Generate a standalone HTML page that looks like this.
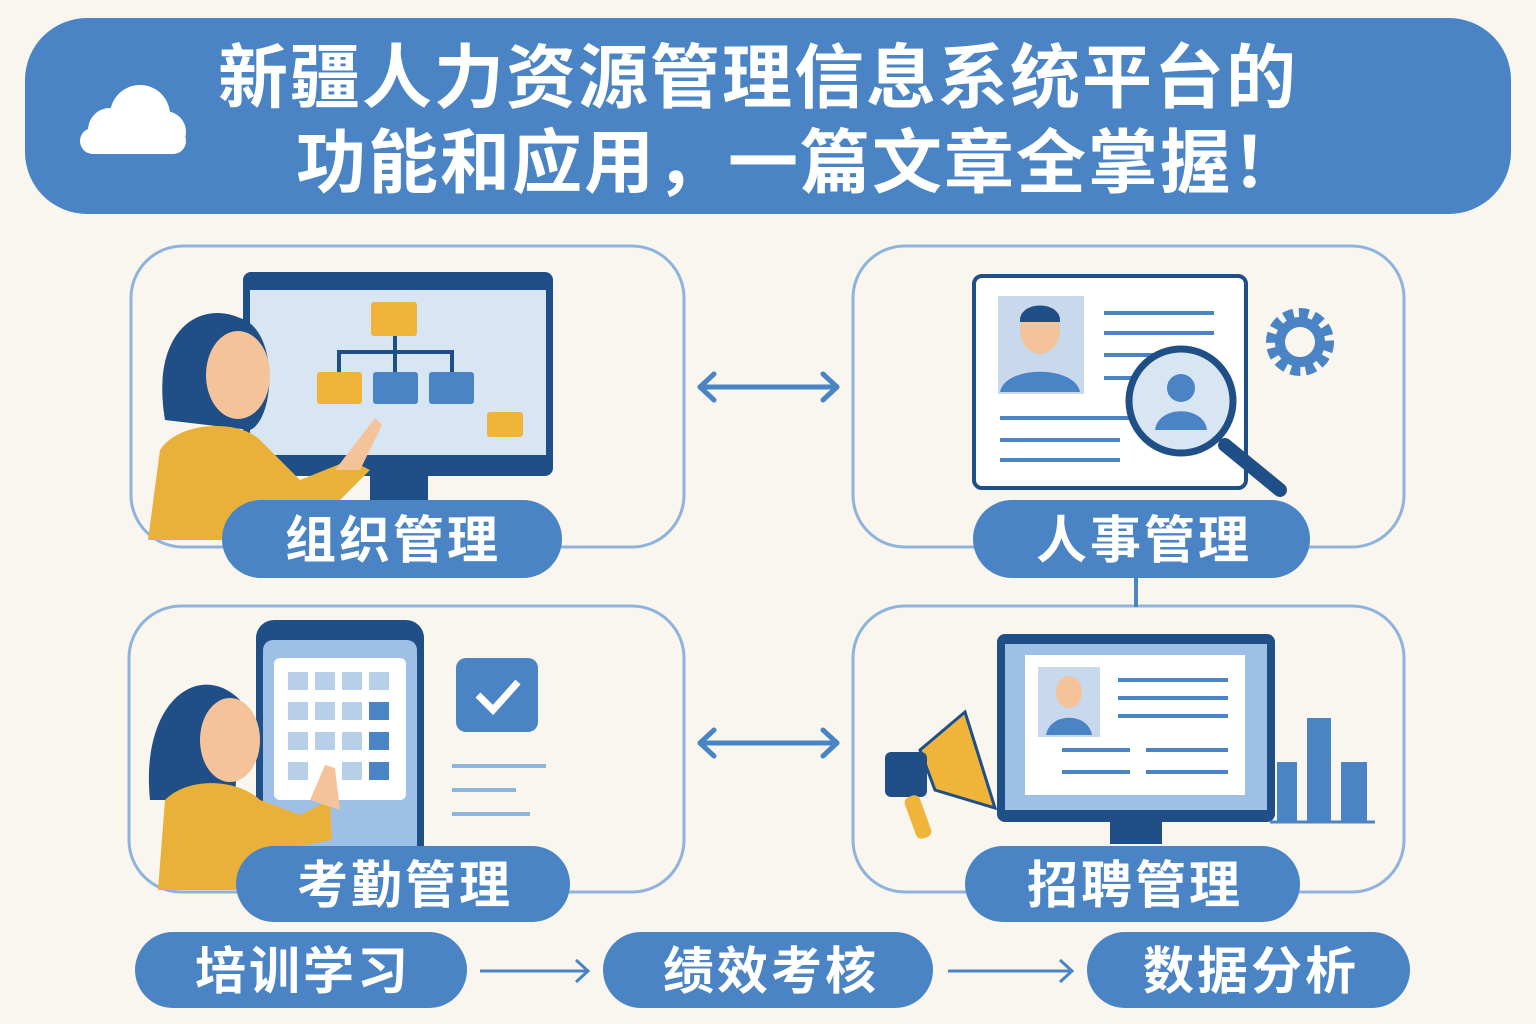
<!DOCTYPE html>
<html><head><meta charset="utf-8"><style>
html,body{margin:0;padding:0;background:#f9f6ef;}
svg{display:block}
text{font-family:"Liberation Sans","Noto Sans CJK SC",sans-serif;font-weight:bold;fill:#fff;text-anchor:middle}
</style></head><body>
<svg width="1536" height="1024" viewBox="0 0 1536 1024">
<rect width="1536" height="1024" fill="#f9f6ef"/>
<rect x="25" y="18" width="1486" height="196" rx="62" fill="#4a84c4"/>
<g fill="#fff"><circle cx="110" cy="130" r="22"/><circle cx="140" cy="115" r="30"/><circle cx="165" cy="132" r="21"/><rect x="80" y="128" width="106" height="26" rx="13"/></g>
<text x="758" y="102" font-size="70" letter-spacing="2">新疆人力资源管理信息系统平台的</text>
<text x="800" y="187" font-size="70" letter-spacing="2">功能和应用，一篇文章全掌握！</text>
<g fill="none" stroke="#8fb3dc" stroke-width="3">
<rect x="131" y="246" width="553" height="301" rx="52"/>
<rect x="853" y="246" width="551" height="301" rx="52"/>
<rect x="129" y="606" width="555" height="286" rx="52"/>
<rect x="853" y="606" width="551" height="286" rx="52"/>
</g>
<line x1="1136" y1="575" x2="1136" y2="607" stroke="#4a84c4" stroke-width="4"/>
<g stroke="#4a84c4" stroke-width="5" fill="none" stroke-linecap="round" stroke-linejoin="round">
<line x1="700" y1="387" x2="837" y2="387"/><polyline points="714,374 700,387 714,400"/><polyline points="823,374 837,387 823,400"/>
<line x1="700" y1="743" x2="837" y2="743"/><polyline points="714,730 700,743 714,756"/><polyline points="823,730 837,743 823,756"/>
</g>
<g stroke="#4a84c4" stroke-width="3" fill="none">
<line x1="480" y1="971" x2="588" y2="971"/><polyline points="576,960 588,971 576,982"/>
<line x1="948" y1="971" x2="1072" y2="971"/><polyline points="1060,960 1072,971 1060,982"/>
</g>
<rect x="243" y="272" width="310" height="204" rx="8" fill="#1f4f86"/>
<rect x="250" y="290" width="296" height="165" fill="#d8e5f2"/>
<rect x="370" y="475" width="58" height="30" fill="#1f4f86"/>
<rect x="371" y="302" width="46" height="34" rx="3" fill="#f0b43a"/>
<g stroke="#1f4f86" stroke-width="4" fill="none"><line x1="395" y1="336" x2="395" y2="374"/><polyline points="339,374 339,352 452,352 452,374"/></g>
<rect x="317" y="372" width="45" height="32" rx="3" fill="#f0b43a"/>
<rect x="373" y="372" width="45" height="32" rx="3" fill="#4a84c4"/>
<rect x="429" y="372" width="45" height="32" rx="3" fill="#4a84c4"/>
<rect x="487" y="412" width="36" height="25" rx="3" fill="#f0b43a"/>
<path d="M165,420 C150,330 200,300 240,318 C280,330 275,420 250,430 Z" fill="#1f4f86"/>
<ellipse cx="238" cy="375" rx="32" ry="44" fill="#f5c39a"/>
<path d="M148,540 L160,450 C180,420 240,420 260,440 L300,480 L350,460 L370,470 L330,510 L300,540 Z" fill="#eab13a"/>
<path d="M335,470 L375,418 L382,425 L360,470 Z" fill="#f5c39a"/>
<rect x="974" y="276" width="272" height="212" rx="8" fill="#fff" stroke="#1f4f86" stroke-width="4"/>
<rect x="998" y="296" width="86" height="98" fill="#c8d9ee"/>
<ellipse cx="1040" cy="330" rx="20" ry="24" fill="#f5c39a"/>
<path d="M1020,322 C1018,300 1062,300 1060,322 Z" fill="#1f4f86"/>
<path d="M1000,392 C1005,365 1075,365 1080,392 Z" fill="#4a84c4"/>
<g stroke="#4a84c4" stroke-width="4"><line x1="1104" y1="313" x2="1214" y2="313"/><line x1="1104" y1="333" x2="1214" y2="333"/><line x1="1104" y1="355" x2="1180" y2="355"/><line x1="1104" y1="378" x2="1150" y2="378"/><line x1="1000" y1="418" x2="1130" y2="418"/><line x1="1000" y1="440" x2="1120" y2="440"/><line x1="1000" y1="460" x2="1120" y2="460"/></g>
<line x1="1225" y1="445" x2="1280" y2="490" stroke="#1f4f86" stroke-width="14" stroke-linecap="round"/>
<circle cx="1181" cy="401" r="52" fill="#d8e5f2" stroke="#1f4f86" stroke-width="7"/>
<circle cx="1181" cy="388" r="14" fill="#4a84c4"/><path d="M1155,430 C1158,405 1204,405 1207,430 Z" fill="#4a84c4"/>
<circle cx="1300" cy="342" r="27" fill="none" stroke="#4a84c4" stroke-width="14" stroke-dasharray="9 5"/>
<circle cx="1300" cy="342" r="20" fill="none" stroke="#4a84c4" stroke-width="10"/>
<rect x="256" y="620" width="168" height="260" rx="18" fill="#1f4f86"/>
<rect x="263" y="640" width="154" height="230" rx="10" fill="#9ec0e6"/>
<rect x="274" y="658" width="132" height="142" rx="6" fill="#fff"/>
<g fill="#b8cfe8"><rect x="288" y="672" width="20" height="18"/><rect x="315" y="672" width="20" height="18"/><rect x="342" y="672" width="20" height="18"/><rect x="369" y="672" width="20" height="18"/><rect x="288" y="702" width="20" height="18"/><rect x="315" y="702" width="20" height="18"/><rect x="342" y="702" width="20" height="18"/><rect x="288" y="732" width="20" height="18"/><rect x="315" y="732" width="20" height="18"/><rect x="342" y="732" width="20" height="18"/><rect x="288" y="762" width="20" height="18"/><rect x="342" y="762" width="20" height="18"/></g>
<g fill="#4a84c4"><rect x="369" y="702" width="20" height="18"/><rect x="369" y="732" width="20" height="18"/><rect x="369" y="762" width="20" height="18"/></g>
<rect x="456" y="658" width="82" height="74" rx="10" fill="#4a84c4"/>
<polyline points="478,695 493,710 518,682" fill="none" stroke="#fff" stroke-width="7"/>
<g stroke="#8fb3dc" stroke-width="4"><line x1="452" y1="766" x2="546" y2="766"/><line x1="452" y1="790" x2="516" y2="790"/><line x1="452" y1="814" x2="530" y2="814"/></g>
<path d="M150,800 C140,700 200,660 240,700 L235,800 Z" fill="#1f4f86"/>
<ellipse cx="230" cy="740" rx="30" ry="42" fill="#f5c39a"/>
<path d="M158,890 L165,800 C190,775 240,780 260,800 L300,815 L330,800 L332,840 L280,850 L265,890 Z" fill="#eab13a"/>
<path d="M310,800 L325,765 L335,768 L340,810 Z" fill="#f5c39a"/>
<rect x="997" y="634" width="278" height="188" rx="8" fill="#1f4f86"/>
<rect x="1005" y="644" width="262" height="166" fill="#9ec0e6"/>
<rect x="1025" y="655" width="220" height="140" fill="#fff"/>
<rect x="1110" y="822" width="52" height="22" fill="#1f4f86"/>
<rect x="1038" y="667" width="62" height="70" fill="#c8d9ee"/>
<ellipse cx="1069" cy="692" rx="13" ry="16" fill="#f5c39a"/>
<path d="M1046,735 C1050,712 1088,712 1092,735 Z" fill="#4a84c4"/>
<g stroke="#4a84c4" stroke-width="4"><line x1="1118" y1="680" x2="1228" y2="680"/><line x1="1118" y1="698" x2="1228" y2="698"/><line x1="1118" y1="716" x2="1228" y2="716"/><line x1="1062" y1="750" x2="1130" y2="750"/><line x1="1146" y1="750" x2="1228" y2="750"/><line x1="1062" y1="772" x2="1130" y2="772"/><line x1="1146" y1="772" x2="1228" y2="772"/></g>
<g fill="#4a84c4"><rect x="1277" y="762" width="20" height="60"/><rect x="1307" y="718" width="24" height="104"/><rect x="1341" y="762" width="26" height="60"/></g>
<line x1="1270" y1="822" x2="1375" y2="822" stroke="#4a84c4" stroke-width="3"/>
<path d="M920,750 L965,712 L995,808 L935,790 Z" fill="#f0b43a" stroke="#1f4f86" stroke-width="3"/>
<rect x="885" y="752" width="42" height="45" rx="6" fill="#1f4f86"/>
<rect x="910" y="795" width="16" height="44" rx="6" fill="#f0b43a" transform="rotate(-20 918 817)"/>
<g fill="#4a84c4">
<rect x="222" y="500" width="340" height="78" rx="39"/>
<rect x="973" y="500" width="337" height="78" rx="39"/>
<rect x="236" y="846" width="334" height="76" rx="38"/>
<rect x="965" y="846" width="335" height="76" rx="38"/>
<rect x="135" y="932" width="332" height="76" rx="38"/>
<rect x="603" y="932" width="330" height="76" rx="38"/>
<rect x="1087" y="932" width="323" height="76" rx="38"/>
</g>
<g font-size="51" letter-spacing="3">
<text x="393" y="558">组织管理</text>
<text x="1144" y="558">人事管理</text>
<text x="405" y="903">考勤管理</text>
<text x="1135" y="903">招聘管理</text>
<text x="303" y="989">培训学习</text>
<text x="771" y="989">绩效考核</text>
<text x="1251" y="989">数据分析</text>
</g>
</svg>
</body></html>
